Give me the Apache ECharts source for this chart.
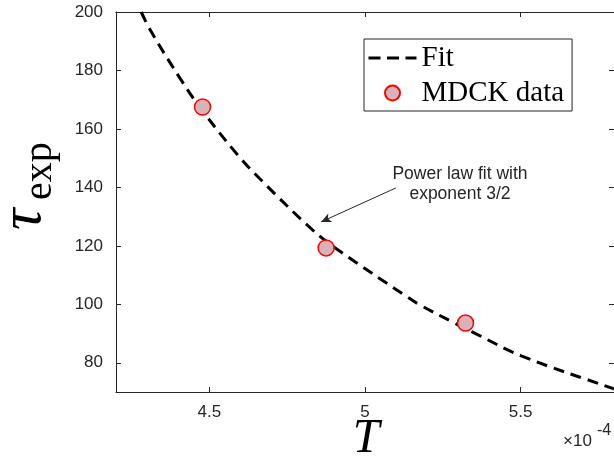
<!DOCTYPE html>
<html>
<head>
<meta charset="utf-8">
<script src="https://cdn.jsdelivr.net/npm/echarts@6/dist/echarts.min.js"></script>
<style>
html,body{margin:0;padding:0;background:#fff;}
#chart{width:614px;height:462px;}
</style>
</head>
<body>
<div id="chart"></div>
<script>
// Fit curve, T in units of 1e-4
var fitT   = [4.281, 4.313, 4.409, 4.478, 4.591, 4.671, 4.831, 4.908, 5.136, 5.173, 5.280, 5.344, 5.504, 5.793, 5.800];
var fitTau = [200.0, 193.3, 176.8, 166.2, 151.1, 142.0, 125.5, 119.0, 102.5, 100.0, 94.0, 90.6, 82.3, 71.3, 71.0];
// MDCK data
var dataT   = [4.478, 4.875, 5.323];
var dataTau = [167.5, 119.3, 93.6];
// ticks
var xTicks = [4.5, 5, 5.5];
var yTicks = [80, 100, 120, 140, 160, 180, 200];
// annotation arrow (data coords)
var arrowFrom = [5.099, 139.8];
var arrowTo   = [4.859, 128.2];

var axisColor = '#262626';
var sans = 'Liberation Sans';
var serif = 'Liberation Serif';

function zip(a, b) { return a.map(function (v, i) { return [v, b[i]]; }); }

var chart = echarts.init(document.getElementById('chart'), null, {renderer: 'canvas'});

var baseX = {
  type: 'value', min: 4.2, max: 5.8,
  splitLine: {show: false},
  axisLine: {show: true, onZero: false, lineStyle: {color: axisColor, width: 1}},
  axisTick: {show: true, inside: true, length: 5, customValues: xTicks, lineStyle: {color: axisColor}},
  axisLabel: {show: true, customValues: xTicks, margin: 12, fontFamily: sans, fontSize: 17, color: axisColor}
};
var baseY = {
  type: 'value', min: 70, max: 200,
  splitLine: {show: false},
  axisLine: {show: true, onZero: false, lineStyle: {color: axisColor, width: 1}},
  axisTick: {show: true, inside: true, length: 5, customValues: yTicks, lineStyle: {color: axisColor}},
  axisLabel: {show: true, customValues: yTicks, margin: 13, fontFamily: sans, fontSize: 17, color: axisColor}
};

var option = {
  animation: false,
  backgroundColor: '#fff',
  grid: {left: 116, top: 12, width: 499, height: 380, containLabel: false},
  xAxis: [
    echarts.util.merge({position: 'bottom'}, baseX, true),
    echarts.util.merge({position: 'top', axisLabel: {show: false}}, echarts.util.clone(baseX), false)
  ],
  yAxis: [
    echarts.util.merge({position: 'left'}, baseY, true),
    echarts.util.merge({position: 'right', axisLabel: {show: false}}, echarts.util.clone(baseY), false)
  ],
  legend: {
    orient: 'vertical', left: 364, top: 39,
    padding: [4, 8, 3, 3], itemGap: 5, itemWidth: 48, itemHeight: 15,
    backgroundColor: '#fff', borderColor: axisColor, borderWidth: 1, borderRadius: 0,
    textStyle: {fontFamily: serif, fontSize: 29, color: '#000', lineHeight: 30},
    data: [
      {name: 'Fit', itemStyle: {color: 'rgba(0,0,0,0)', borderWidth: 0, opacity: 0},
       lineStyle: {color: '#000', width: 3, type: [12, 6.5]}},
      {name: 'MDCK data'}
    ]
  },
  series: [
    {
      name: 'Fit', type: 'line', xAxisIndex: 0, yAxisIndex: 0,
      data: zip(fitT, fitTau), smooth: 0.4, symbol: 'none', clip: true,
      lineStyle: {color: '#000', width: 3, type: [11, 7]},
      itemStyle: {color: '#000'},
      z: 2,
      markLine: {
        silent: true, symbol: ['none', 'arrow'], symbolSize: [7, 10],
        label: {show: false},
        lineStyle: {color: axisColor, width: 1, type: 'solid'},
        data: [[{coord: arrowFrom}, {coord: arrowTo}]]
      }
    },
    {
      name: 'MDCK data', type: 'scatter', xAxisIndex: 0, yAxisIndex: 0,
      data: zip(dataT, dataTau), symbol: 'circle', symbolSize: 16,
      itemStyle: {color: '#d8b2b6', borderColor: '#ff0000', borderWidth: 1.5, opacity: 1},
      z: 3
    }
  ],
  graphic: [
    {type: 'text', x: 460, y: 174, style: {text: 'Power law fit with', fill: axisColor, font: '17.5px ' + sans, textAlign: 'center', textVerticalAlign: 'middle'}},
    {type: 'text', x: 460, y: 194, style: {text: 'exponent 3/2', fill: axisColor, font: '17.5px ' + sans, textAlign: 'center', textVerticalAlign: 'middle'}},
    {type: 'text', x: 366, y: 439, style: {text: 'T', fill: '#000', font: 'italic 48px ' + serif, textAlign: 'center', textVerticalAlign: 'middle'}},
    {type: 'text', x: 563, y: 441, style: {text: '×10', fill: axisColor, font: '17px ' + sans, textAlign: 'left', textVerticalAlign: 'middle'}},
    {type: 'text', x: 597, y: 431, style: {text: '-4', fill: axisColor, font: '16px ' + sans, textAlign: 'left', textVerticalAlign: 'middle'}},
    {type: 'group', x: 0, y: 0, rotation: Math.PI / 2, children: [
      {type: 'text', x: -230, y: 24, style: {text: 'τ', fill: '#000', font: 'italic 60px ' + serif, textAlign: 'left', textVerticalAlign: 'middle'}},
      {type: 'text', x: -200, y: 40, style: {text: 'exp', fill: '#000', font: '40px ' + serif, textAlign: 'left', textVerticalAlign: 'middle'}}
    ]}
  ]
};
chart.setOption(option);
</script>
</body>
</html>
